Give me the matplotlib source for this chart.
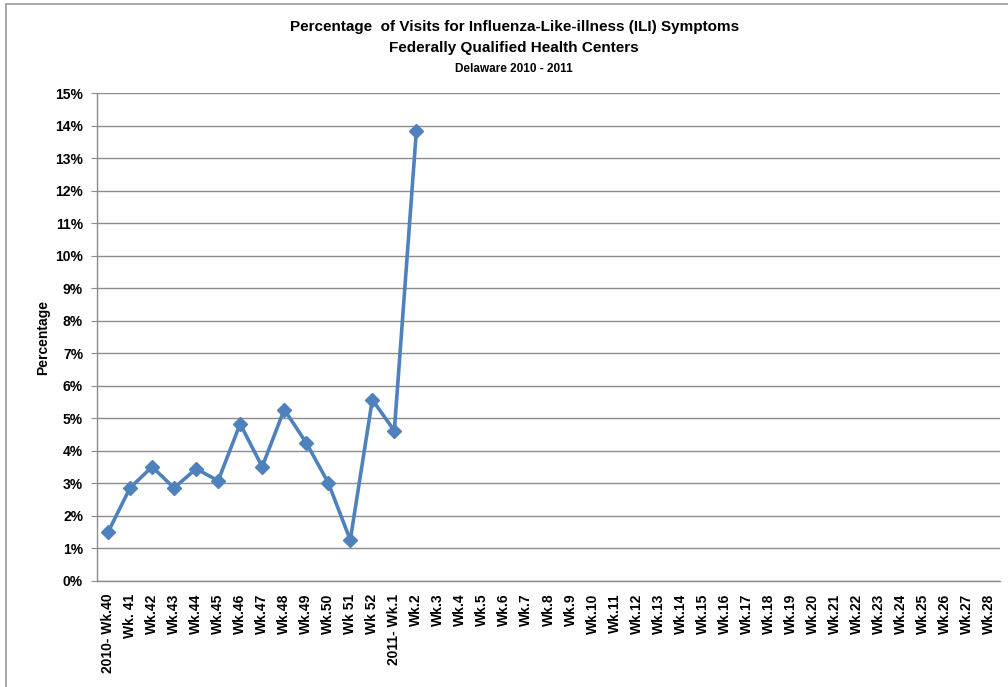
import matplotlib
matplotlib.use("Agg")
import matplotlib.pyplot as plt
from matplotlib.patches import Rectangle
from matplotlib.ticker import FuncFormatter, MultipleLocator

plt.rcParams["font.family"] = ["Liberation Sans Narrow", "Liberation Sans", "DejaVu Sans"]

weeks = ["2010- Wk.40", "Wk. 41", "Wk.42", "Wk.43", "Wk.44", "Wk.45", "Wk.46", "Wk.47",
         "Wk.48", "Wk.49", "Wk.50", "Wk 51", "Wk 52", "2011- Wk.1"] + \
        ["Wk.%d" % i for i in range(2, 29)]
ili_pct = [1.5, 2.86, 3.51, 2.86, 3.45, 3.08, 4.83, 3.51, 5.27, 4.25, 3.02, 1.26, 5.57, 4.62, 13.83]

fig = plt.figure(figsize=(10.08, 6.87), dpi=100)
ax = fig.add_axes([97 / 1008, 1 - 581 / 687, 903 / 1008, 488 / 687])

# outer chart border
fig.patches.append(Rectangle((6 / 1008, -0.05), 1.1, 1 - 4 / 687 + 0.05, transform=fig.transFigure,
                             fill=False, edgecolor="#9a9a9a", linewidth=1.2, zorder=0))

x = list(range(len(ili_pct)))
ax.plot(x, ili_pct, color="#4F81BD", linewidth=2.6, marker="D", markersize=7,
        markerfacecolor="#4F81BD", markeredgecolor="#4F81BD", zorder=3)

ax.set_xlim(-0.5, len(weeks) - 0.5)
ax.set_ylim(0, 15)
ax.yaxis.set_major_locator(MultipleLocator(1))
ax.yaxis.set_major_formatter(FuncFormatter(lambda v, p: "%d%%" % v))
ax.grid(axis="y", color="#8c8c8c", linewidth=1.0)
ax.set_axisbelow(True)

ax.set_xticks(range(len(weeks)))
ax.set_xticklabels(weeks, rotation=90, fontsize=10, fontweight="bold")
for lbl in ax.get_yticklabels():
    lbl.set_fontsize(10)
    lbl.set_fontweight("bold")
ax.tick_params(axis="x", length=0, pad=9)
ax.tick_params(axis="y", length=4, direction="out", color="#8c8c8c", pad=6)

for s in ["top", "right"]:
    ax.spines[s].set_visible(False)
for s in ["left", "bottom"]:
    ax.spines[s].set_color("#8c8c8c")
    ax.spines[s].set_linewidth(1.0)

ax.set_ylabel("Percentage", fontsize=10, fontweight="bold", labelpad=4)

fig.text(0.51, 1 - 27 / 687, "Percentage  of Visits for Influenza-Like-illness (ILI) Symptoms",
         ha="center", va="center", fontsize=11, fontweight="bold")
fig.text(0.51, 1 - 48 / 687, "Federally Qualified Health Centers",
         ha="center", va="center", fontsize=11, fontweight="bold")
fig.text(0.51, 1 - 69 / 687, "Delaware 2010 - 2011",
         ha="center", va="center", fontsize=8.5, fontweight="bold")

fig.savefig("out.png", dpi=100)
